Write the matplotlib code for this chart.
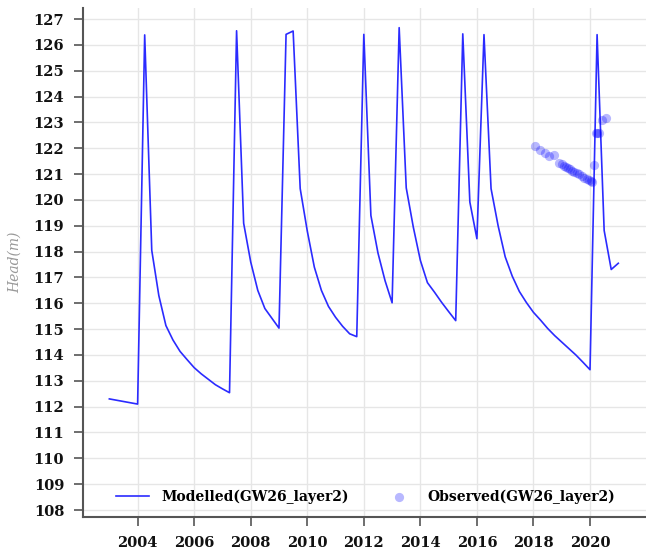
import numpy as np
import matplotlib
matplotlib.use("Agg")
import matplotlib.pyplot as plt

# modelled head (quarterly model output)
model_year = [2003.0, 2004.0, 2004.25, 2004.5, 2004.75, 2005.0, 2005.25, 2005.5, 2005.75,
              2006.0, 2006.25, 2006.5, 2006.75, 2007.0, 2007.25, 2007.5, 2007.75,
              2008.0, 2008.25, 2008.5, 2008.75, 2009.0, 2009.25, 2009.5, 2009.75,
              2010.0, 2010.25, 2010.5, 2010.75, 2011.0, 2011.25, 2011.5, 2011.75,
              2012.0, 2012.25, 2012.5, 2012.75, 2013.0, 2013.25, 2013.5, 2013.75,
              2014.0, 2014.25, 2014.5, 2014.75, 2015.0, 2015.25, 2015.5, 2015.75,
              2016.0, 2016.25, 2016.5, 2016.75, 2017.0, 2017.25, 2017.5, 2017.75,
              2018.0, 2018.25, 2018.5, 2018.75, 2019.0, 2019.25, 2019.5, 2019.75,
              2020.0, 2020.25, 2020.5, 2020.75, 2021.0]
model_head = [112.30, 112.10, 126.39, 118.05, 116.30, 115.14, 114.58, 114.14, 113.82,
              113.51, 113.27, 113.06, 112.85, 112.69, 112.54, 126.55, 119.10,
              117.60, 116.50, 115.80, 115.42, 115.04, 126.41, 126.54, 120.44,
              118.80, 117.40, 116.50, 115.88, 115.46, 115.11, 114.82, 114.71,
              126.41, 119.40, 117.95, 116.88, 116.02, 126.67, 120.47, 118.95,
              117.66, 116.80, 116.43, 116.04, 115.68, 115.33, 126.43, 119.92,
              118.50, 126.40, 120.44, 119.00, 117.80, 117.05, 116.46, 116.03,
              115.65, 115.35, 115.03, 114.75, 114.50, 114.25, 114.00, 113.72,
              113.43, 126.40, 118.82, 117.31, 117.55]

# observed head
obs_year = [2018.05, 2018.23, 2018.41, 2018.56, 2018.73, 2018.89, 2019.0, 2019.08, 2019.15,
            2019.22, 2019.28, 2019.38, 2019.45, 2019.55, 2019.62, 2019.72, 2019.8, 2019.88,
            2019.96, 2020.05, 2020.08, 2020.13, 2020.2, 2020.24, 2020.32, 2020.43, 2020.58]
obs_head = [122.08, 121.95, 121.82, 121.69, 121.73, 121.44, 121.38, 121.32, 121.27,
            121.23, 121.20, 121.14, 121.10, 121.04, 121.00, 120.93, 120.87, 120.82,
            120.77, 120.72, 120.69, 121.34, 122.60, 122.60, 122.60, 123.11, 123.19]

plt.rcParams["font.family"] = "DejaVu Serif"

fig = plt.figure(figsize=(6.46, 5.53), dpi=100)
ax = fig.add_axes([0.129, 0.0656, 0.871, 0.9199])

ax.plot(model_year, model_head, color="#2b2bff", lw=1.2, label="Modelled(GW26_layer2)", zorder=3)
ax.scatter(obs_year, obs_head, s=44, color="blue", alpha=0.28, linewidths=0,
           label="Observed(GW26_layer2)", zorder=4)

ax.set_xlim(2002.08, 2021.98)
ax.set_ylim(107.74, 127.43)
ax.set_xticks(np.arange(2004, 2021, 2))
ax.set_yticks(np.arange(108, 128, 1))

ax.grid(True, color="#e6e6e6", lw=1)
ax.set_axisbelow(True)
for s in ["top", "right"]:
    ax.spines[s].set_visible(False)
for s in ["left", "bottom"]:
    ax.spines[s].set_color("#555555")
    ax.spines[s].set_linewidth(1.5)

ax.tick_params(direction="out", length=6.8, width=1.2, color="#555555", labelsize=10.5, pad=7)
for lab in ax.get_xticklabels() + ax.get_yticklabels():
    lab.set_fontweight("bold")
    lab.set_color("#111111")

ax.set_ylabel("Head(m)", fontstyle="italic", color="#999999", fontsize=10, labelpad=8)

ax.legend(loc="center", bbox_to_anchor=(0.5015, 0.04), ncol=2, frameon=False,
          prop={"weight": "bold", "size": 10}, handlelength=2.4, handletextpad=0.87,
          columnspacing=2.4, scatterpoints=1)

fig.savefig("out.png", dpi=100)
